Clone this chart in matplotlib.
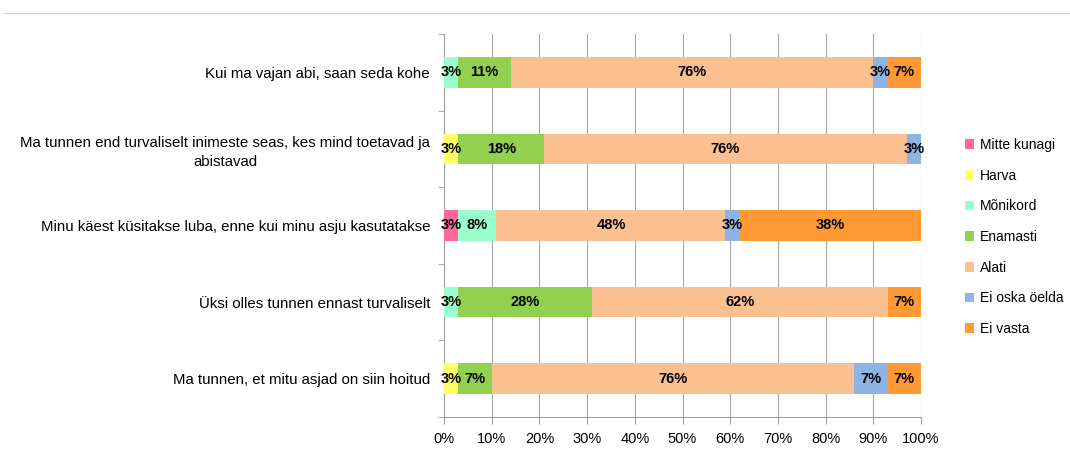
#!/usr/bin/env python3
import numpy as np
import matplotlib
matplotlib.use("Agg")
import matplotlib.pyplot as plt
from matplotlib.lines import Line2D
from matplotlib.ticker import PercentFormatter

# categories (top to bottom as shown)
categories = [
    "Kui ma vajan abi, saan seda kohe",
    "Ma tunnen end turvaliselt inimeste seas, kes mind toetavad ja\nabistavad",
    "Minu käest küsitakse luba, enne kui minu asju kasutatakse",
    "Üksi olles tunnen ennast turvaliselt",
    "Ma tunnen, et mitu asjad on siin hoitud",
]
series_names = ["Mitte kunagi", "Harva", "Mõnikord", "Enamasti", "Alati",
                "Ei oska öelda", "Ei vasta"]
colors = ["#FF6699", "#FFFF66", "#99FFCC", "#92D050", "#FAC090",
          "#8DB4E2", "#FF9933"]

mitte_kunagi = [0, 0, 3, 0, 0]
harva = [0, 3, 0, 0, 3]
monikord = [3, 0, 8, 3, 0]
enamasti = [11, 18, 0, 28, 7]
alati = [76, 76, 48, 62, 76]
ei_oska = [3, 3, 3, 0, 7]
ei_vasta = [7, 0, 38, 7, 7]

series = [mitte_kunagi, harva, monikord, enamasti, alati, ei_oska, ei_vasta]

plt.rcParams['font.family'] = ['Liberation Sans', 'DejaVu Sans']

fig = plt.figure(figsize=(10.7, 4.51), dpi=100)
ax = fig.add_axes([444 / 1070, 34 / 451, 477 / 1070, 383 / 451])

y = np.arange(len(categories))
left = np.zeros(len(categories))
for name, vals, col in zip(series_names, series, colors):
    vals = np.array(vals, dtype=float)
    bars = ax.barh(y, vals, left=left, height=0.4, color=col, label=name, zorder=3)
    for b, v in zip(bars, vals):
        if v > 0:
            ax.text(b.get_x() + b.get_width() / 2, b.get_y() + b.get_height() / 2,
                    f"{v:.0f}%", ha='center', va='center', fontsize=10.5,
                    fontweight='bold', color='black', zorder=4)
    left += vals

ax.set_xlim(0, 100)
ax.set_ylim(len(categories) - 0.5, -0.5)
ax.set_xticks(np.arange(0, 101, 10))
ax.xaxis.set_major_formatter(PercentFormatter(decimals=0))
ax.set_yticks(y)
ax.set_yticklabels(categories, fontsize=10.8, multialignment='center',
                   linespacing=1.4)
ax.set_yticks(np.arange(-0.5, len(categories), 1), minor=True)
ax.tick_params(axis='y', which='major', length=0, pad=10)
ax.tick_params(axis='y', which='minor', length=4, color='#A0A0A0')
ax.tick_params(axis='x', length=5, color='#A0A0A0', labelsize=10.5, pad=6)
ax.grid(axis='x', color='#A6A6A6', linewidth=0.8, zorder=0)

for s in ['top', 'right']:
    ax.spines[s].set_visible(False)
for s in ['left', 'bottom']:
    ax.spines[s].set_color('#A0A0A0')

ax.legend(loc='center left', bbox_to_anchor=(1.065, 0.47), frameon=False,
          fontsize=10, handlelength=0.7, handleheight=0.7,
          labelspacing=1.2, handletextpad=0.4)

fig.add_artist(Line2D([4 / 1070, 1.0], [1 - 13 / 451, 1 - 13 / 451],
                      color='#D0D0D0', linewidth=1))

fig.savefig("out.png", dpi=100)
